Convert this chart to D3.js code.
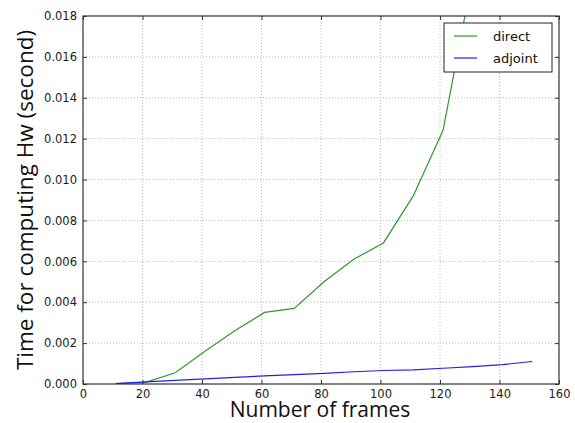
<!DOCTYPE html>
<html>
<head>
<meta charset="utf-8">
<script src="https://cdn.jsdelivr.net/npm/d3@7"></script>
<style>
  body { margin: 0; background: #fff; }
  .tick text { font-family: "DejaVu Sans", sans-serif; font-size: 11.5px; fill: #1a1a1a; }
  .lbl { font-family: "Open Sans", "DejaVu Sans", sans-serif; fill: #111; }
</style>
</head>
<body>
<script>
// frames on x axis
const frames = [11, 21, 31, 41, 51, 61, 71, 81, 91, 101, 111, 121, 131, 141, 151];
// time in seconds
const direct = [0.00002, 0.00008, 0.00055, 0.0016, 0.0026, 0.0035, 0.0037, 0.0050, 0.0061, 0.0069, 0.0092, 0.0124, 0.0200, 0.0270, 0.0350];
const adjoint = [0.00002, 0.0001, 0.00018, 0.00025, 0.00032, 0.0004, 0.00046, 0.00052, 0.0006, 0.00066, 0.00069, 0.00077, 0.00085, 0.00095, 0.0011];
const xTicks = [0, 20, 40, 60, 80, 100, 120, 140, 160];
const yTicks = [0, 0.002, 0.004, 0.006, 0.008, 0.010, 0.012, 0.014, 0.016, 0.018];

const W = 575, H = 423;
const pL = 83, pR = 559, pT = 16, pB = 384;

var svg = d3.select("body").append("svg").attr("width", W).attr("height", H);

var x = d3.scaleLinear().domain([0, 160]).range([pL, pR]);
var y = d3.scaleLinear().domain([0, 0.018]).range([pB, pT]);

svg.append("clipPath").attr("id", "clip")
  .append("rect").attr("x", pL).attr("y", pT)
  .attr("width", pR - pL).attr("height", pB - pT);

// grid
svg.append("g").selectAll("line").data(xTicks.slice(1, -1)).enter().append("line")
  .attr("x1", d => x(d)).attr("x2", d => x(d))
  .attr("y1", pT).attr("y2", pB)
  .attr("stroke", "#aaa").attr("stroke-width", 0.8).attr("stroke-dasharray", "1,2");
svg.append("g").selectAll("line").data(yTicks.slice(1, -1)).enter().append("line")
  .attr("y1", d => y(d)).attr("y2", d => y(d))
  .attr("x1", pL).attr("x2", pR)
  .attr("stroke", "#aaa").attr("stroke-width", 0.8).attr("stroke-dasharray", "1,2");

// lines
var line = d3.line().x((d, i) => x(frames[i])).y(d => y(d));
var plot = svg.append("g").attr("clip-path", "url(#clip)");
plot.append("path").datum(direct).attr("d", line)
  .attr("fill", "none").attr("stroke", "#2e9a2e").attr("stroke-width", 1.2);
plot.append("path").datum(adjoint).attr("d", line)
  .attr("fill", "none").attr("stroke", "#2020ee").attr("stroke-width", 1.2);

// axes (ticks inward)
var xAxis = d3.axisBottom(x).tickValues(xTicks).tickSizeInner(-4).tickSizeOuter(0).tickPadding(6);
var gx = svg.append("g").attr("transform", "translate(0," + pB + ")").call(xAxis);
var gx2 = svg.append("g").attr("transform", "translate(0," + pT + ")")
  .call(d3.axisTop(x).tickValues(xTicks).tickSizeInner(-4).tickSizeOuter(0).tickFormat(""));
var yAxis = d3.axisLeft(y).tickValues(yTicks).tickSizeInner(-4).tickSizeOuter(0).tickPadding(6)
  .tickFormat(d3.format(".3f"));
var gy = svg.append("g").attr("transform", "translate(" + pL + ",0)").call(yAxis);
var gy2 = svg.append("g").attr("transform", "translate(" + pR + ",0)")
  .call(d3.axisRight(y).tickValues(yTicks).tickSizeInner(-4).tickSizeOuter(0).tickFormat(""));
[gx, gx2, gy, gy2].forEach(g => {
  g.select(".domain").remove();
  g.selectAll(".tick line").attr("stroke", "#333");
});

// frame
svg.append("rect").attr("x", pL).attr("y", pT)
  .attr("width", pR - pL).attr("height", pB - pT)
  .attr("fill", "none").attr("stroke", "#333").attr("stroke-width", 1.2);

// labels
svg.append("text").attr("class", "lbl")
  .attr("x", 320).attr("y", 417)
  .attr("text-anchor", "middle").attr("font-size", 21)
  .text("Number of frames");
svg.append("text").attr("class", "lbl")
  .attr("transform", "translate(33," + 200 + ") rotate(-90)")
  .attr("text-anchor", "middle").attr("font-size", 22.5)
  .text("Time for computing Hw (second)");

// legend
var lg = svg.append("g").attr("transform", "translate(444,23)");
lg.append("rect").attr("width", 108).attr("height", 49)
  .attr("fill", "#fff").attr("stroke", "#222").attr("stroke-width", 1);
var items = [["direct", "#2e9a2e"], ["adjoint", "#2020ee"]];
items.forEach((it, i) => {
  lg.append("line").attr("x1", 10).attr("x2", 33)
    .attr("y1", 13 + i * 22).attr("y2", 13 + i * 22)
    .attr("stroke", it[1]).attr("stroke-width", 1.2);
  lg.append("text").attr("x", 49).attr("y", 18 + i * 22)
    .attr("font-family", "DejaVu Sans, sans-serif").attr("font-size", 13).attr("fill", "#111")
    .text(it[0]);
});
</script>
</body>
</html>
